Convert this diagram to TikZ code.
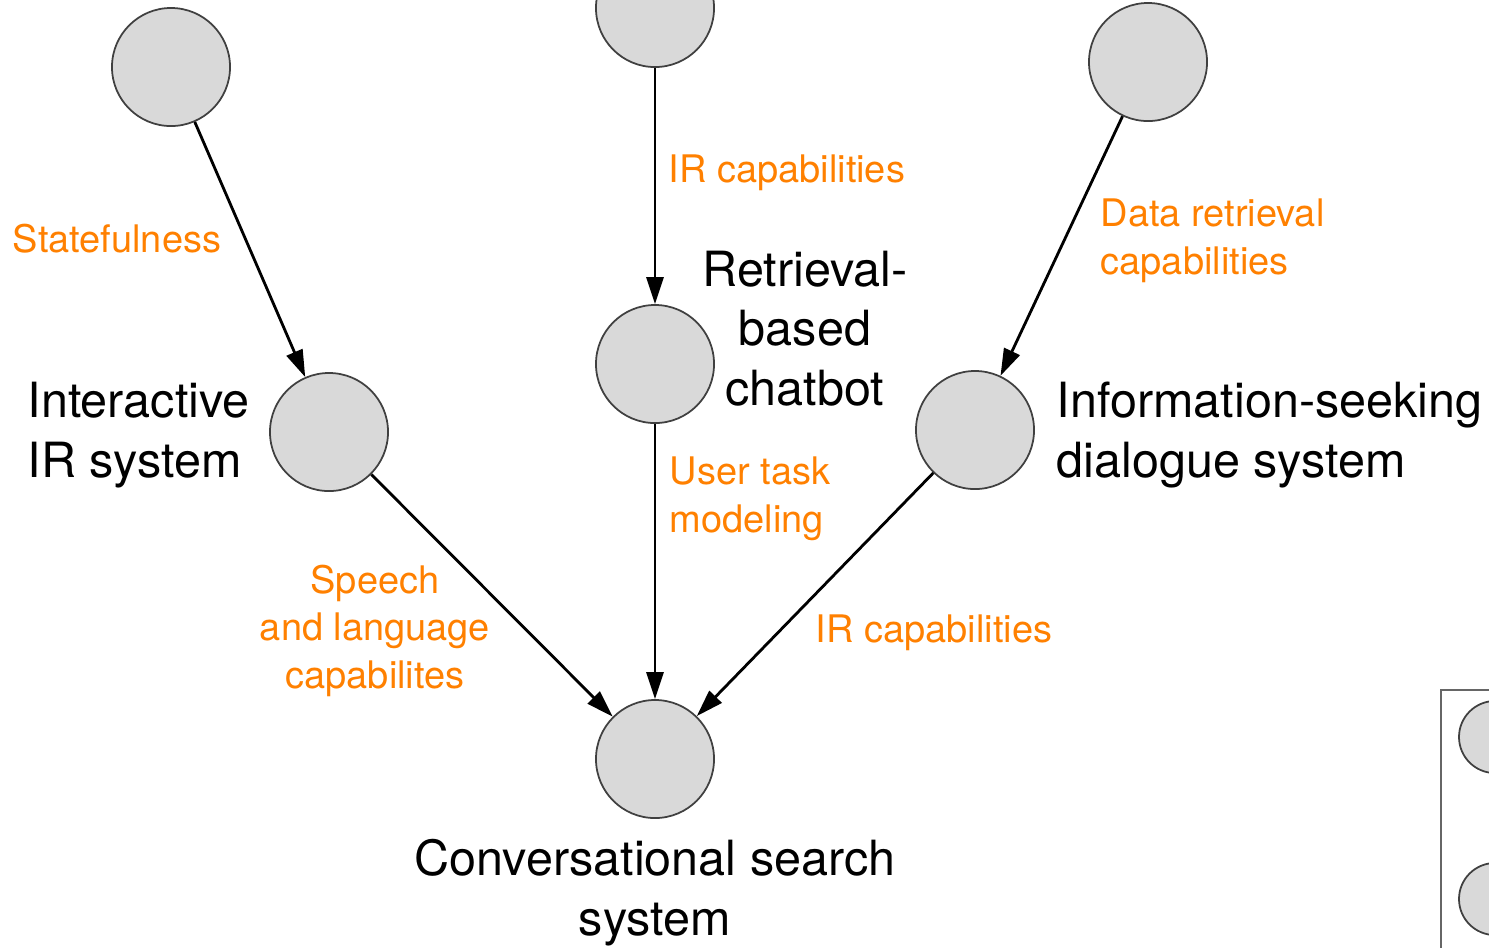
\documentclass[tikz,border=0pt]{standalone}
\usepackage{fontspec}
\setmainfont{TeX Gyre Heros}
\usetikzlibrary{arrows.meta}
\definecolor{lblorange}{RGB}{255,128,0}
\begin{document}
\begin{tikzpicture}[x=0.01cm,y=-0.01cm,
  sys/.style={circle,draw=black!75,fill=black!15,line width=0.5pt,minimum size=1.18cm,inner sep=0pt},
  sysname/.style={font=\fontsize{13.8pt}{16.8pt}\selectfont,inner sep=0pt},
  lbl/.style={font=\fontsize{10.8pt}{13.4pt}\selectfont,text=lblorange,inner sep=0pt},
  link/.style={-{Triangle[length=2.7mm,width=1.7mm]},line width=0.8pt}]
 \useasboundingbox(0,0) rectangle (1489,947);
 \clip(0,0) rectangle (1489,947);
 % systems
 \node[sys](top1) at (171,67){};
 \node[sys](top2) at (655,8){};
 \node[sys](top3) at (1148,62){};
 \node[sys](iir) at (329,432){};
 \node[sys](rbc) at (655,364){};
 \node[sys](isd) at (975,430){};
 \node[sys](css) at (655,759){};
 % names (base = last line)
 \node[sysname,anchor=base west,align=left](iirname) at (27,477){Interactive\\IR system};
 \node[sysname,anchor=base,align=center](rbcname) at (805,405){Retrieval-\\based\\chatbot};
 \node[sysname,anchor=base west,align=left](isdname) at (1056,477){Information-seeking\\dialogue system};
 \node[sysname,anchor=base,align=center](cssname) at (655,935){Conversational search\\system};
 % links
 \draw[link](top1)--(iir);
 \draw[link](top2)--(rbc);
 \draw[link](top3)--(isd);
 \draw[link](iir)--(css);
 \draw[link](rbc)--(css);
 \draw[link](isd)--(css);
 % labels
 \node[lbl,anchor=base](l1) at (117,252){Statefulness};
 \node[lbl,anchor=base west](l2) at (668,182){IR capabilities};
 \node[lbl,anchor=base west,align=left](l3) at (1100,274){Data retrieval\\capabilities};
 \node[lbl,anchor=base west,align=left](l4) at (669,532){User task\\modeling};
 \node[lbl,anchor=base,align=center](l5) at (375,688){Speech\\and language\\capabilites};
 \node[lbl,anchor=base west](l6) at (815,642){IR capabilities};
 % legend
 \draw[black!60,line width=0.6pt](1441,690) rectangle (1700,1000);
 \node[sys,minimum size=0.72cm](leg1) at (1495,737){};
 \node[sys,minimum size=0.72cm](leg2) at (1495,899){};
\end{tikzpicture}
\end{document}
